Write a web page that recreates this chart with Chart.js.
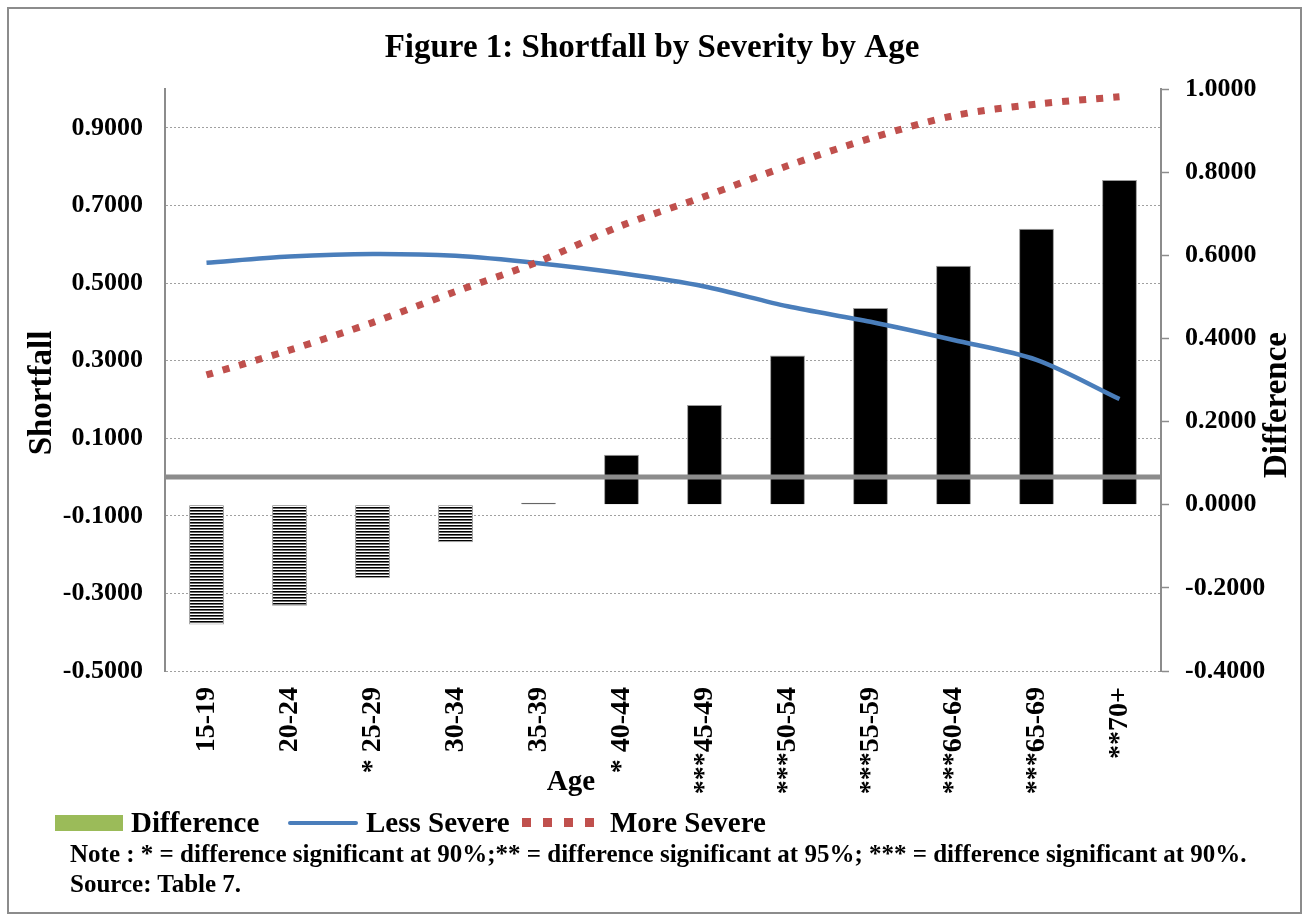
<!DOCTYPE html>
<html>
<head>
<meta charset="utf-8">
<script src="https://cdn.jsdelivr.net/npm/chart.js@4.4.1/dist/chart.umd.min.js"></script>
<style>
  body { margin: 0; background: #fff; font-family: "Liberation Serif", serif; }
  #marco { position: absolute; left: 7px; top: 7px; width: 1295px; height: 907px; box-sizing: border-box; border: 2px solid #8c8c8c; }
  #contenedor { position: absolute; left: 0; top: 0; width: 1304px; height: 919px; }
  .txt { position: absolute; font-weight: bold; color: #000; white-space: nowrap; line-height: 1; }
  .leyenda { font-size: 29px; top: 808px; }
  .nota { font-size: 25px; left: 70px; }
</style>
</head>
<body>
<div id="marco"></div>
<div id="contenedor"><canvas id="graficoEdad"></canvas></div>

<div style="position:absolute;left:55px;top:815px;width:68px;height:16px;background:#9bbb59"></div>
<div class="txt leyenda" style="left:131px">Difference</div>
<div style="position:absolute;left:288px;top:821px;width:70px;height:4px;background:#4a7ebb;border-radius:2px"></div>
<div class="txt leyenda" style="left:366px">Less Severe</div>
<div style="position:absolute;left:522px;top:818px;width:78px;height:9px;background:repeating-linear-gradient(90deg,#c0504d 0 9px,transparent 9px 21px)"></div>
<div class="txt leyenda" style="left:610px">More Severe</div>
<div class="txt nota" style="top:841px">Note : * = difference significant at 90%;** = difference significant at 95%; *** = difference significant at 90%.</div>
<div class="txt nota" style="top:871px">Source: Table 7.</div>

<script>
// Datos
const edades = ["15-19", "20-24", "* 25-29", "30-34", "35-39", "* 40-44",
  "***45-49", "***50-54", "***55-59", "***60-64", "***65-69", "**70+"];
const diferencia = [-0.288, -0.243, -0.176, -0.090, 0.005, 0.120, 0.240, 0.359, 0.473, 0.575, 0.664, 0.781];
const menosSevero = [0.552, 0.568, 0.575, 0.570, 0.551, 0.525, 0.491, 0.440, 0.400, 0.353, 0.302, 0.201];
const masSevero = [0.263, 0.327, 0.398, 0.478, 0.555, 0.648, 0.723, 0.802, 0.873, 0.931, 0.961, 0.980];
const ticksIzq = [-0.5, -0.3, -0.1, 0.1, 0.3, 0.5, 0.7, 0.9];
const ticksDer = [-0.4, -0.2, 0.0, 0.2, 0.4, 0.6, 0.8, 1.0];

const fuente = "Liberation Serif";

// patrón rayado para las barras negativas
function crearRayado() {
  const c = document.createElement("canvas");
  c.width = 4;
  c.height = 3;
  const g = c.getContext("2d");
  g.fillStyle = "#fff";
  g.fillRect(0, 0, 4, 3);
  g.fillStyle = "#000";
  g.fillRect(0, 0, 4, 1);
  g.fillStyle = "#6a6a6a";
  g.fillRect(0, 1, 4, 1);
  return g.createPattern(c, "repeat");
}
const rayado = crearRayado();

// línea del cero y títulos de ejes
const extras = {
  id: "extras",
  afterDatasetsDraw(chart) {
    const ctx = chart.ctx;
    const y0 = chart.scales.y.getPixelForValue(0);
    ctx.save();
    ctx.strokeStyle = "#8c8c8c";
    ctx.lineWidth = 5;
    ctx.beginPath();
    ctx.moveTo(chart.chartArea.left, y0);
    ctx.lineTo(chart.chartArea.right, y0);
    ctx.stroke();
    ctx.restore();
  },
  afterDraw(chart) {
    const ctx = chart.ctx;
    ctx.save();
    ctx.fillStyle = "#000";
    ctx.textAlign = "center";
    ctx.textBaseline = "middle";
    ctx.font = "bold 29px " + fuente;
    ctx.fillText("Age", 571, 783);
    ctx.font = "bold 33px " + fuente;
    ctx.translate(42, 393);
    ctx.rotate(-Math.PI / 2);
    ctx.fillText("Shortfall", 0, 0);
    ctx.restore();
    ctx.save();
    ctx.fillStyle = "#000";
    ctx.textAlign = "center";
    ctx.textBaseline = "middle";
    ctx.font = "bold 33px " + fuente;
    ctx.translate(1277, 405);
    ctx.rotate(-Math.PI / 2);
    ctx.fillText("Difference", 0, 0);
    ctx.restore();
  },
};

window.onload = function () {
  const ctx = document.getElementById("graficoEdad").getContext("2d");
  new Chart(ctx, {
    data: {
      labels: edades,
      datasets: [
        {
          type: "bar",
          label: "Difference",
          data: diferencia,
          yAxisID: "y1",
          order: 3,
          backgroundColor: (c) => (c.raw < 0 ? rayado : "#000"),
          borderColor: "#9a9a9a",
          borderWidth: 1,
          barPercentage: 0.42,
          categoryPercentage: 1,
        },
        {
          type: "line",
          label: "Less Severe",
          data: menosSevero,
          yAxisID: "y",
          order: 2,
          borderColor: "#4a7ebb",
          borderWidth: 4.5,
          tension: 0.3,
          pointRadius: 0,
          fill: false,
        },
        {
          type: "line",
          label: "More Severe",
          data: masSevero,
          yAxisID: "y",
          order: 1,
          borderColor: "#c0504d",
          borderWidth: 7,
          borderDash: [7, 10],
          borderCapStyle: "butt",
          tension: 0.3,
          pointRadius: 0,
          fill: false,
        },
      ],
    },
    options: {
      responsive: true,
      maintainAspectRatio: false,
      animation: false,
      layout: { padding: { left: 0, right: 0, top: 0, bottom: 118 } },
      plugins: {
        legend: { display: false },
        tooltip: { enabled: false },
        title: {
          display: true,
          text: "Figure 1: Shortfall by Severity by Age",
          color: "#000",
          font: { family: fuente, size: 33, weight: "bold" },
          padding: { top: 29, bottom: 20.4 },
        },
      },
      scales: {
        x: {
          type: "category",
          offset: true,
          grid: { display: false, drawTicks: false },
          border: { display: false },
          afterFit: (s) => { s.height = 130; },
          ticks: {
            autoSkip: false,
            minRotation: 90,
            maxRotation: 90,
            padding: 16,
            color: "#000",
            font: { family: fuente, size: 28, weight: "bold" },
          },
        },
        y: {
          position: "left",
          min: -0.5,
          max: 1.0,
          afterBuildTicks: (s) => { s.ticks = ticksIzq.map((v) => ({ value: v })); },
          afterFit: (s) => { s.width = 165; },
          grid: { color: "#a0a0a0", lineWidth: 1, drawTicks: false },
          border: { display: true, color: "#8c8c8c", width: 2, dash: [2, 2] },
          ticks: {
            padding: 22,
            color: "#000",
            font: { family: fuente, size: 26, weight: "bold" },
            callback: (v) => v.toFixed(4),
          },
        },
        y1: {
          position: "right",
          min: -0.4,
          max: 1.0,
          afterBuildTicks: (s) => { s.ticks = ticksDer.map((v) => ({ value: v })); },
          afterFit: (s) => { s.width = 143; },
          grid: { drawOnChartArea: false, drawTicks: true, tickLength: 8, tickColor: "#8c8c8c", tickWidth: 1.5 },
          border: { display: true, color: "#8c8c8c", width: 2 },
          ticks: {
            padding: 16,
            color: "#000",
            font: { family: fuente, size: 26, weight: "bold" },
            callback: (v) => v.toFixed(4),
          },
        },
      },
    },
    plugins: [extras],
  });
};
</script>
</body>
</html>
